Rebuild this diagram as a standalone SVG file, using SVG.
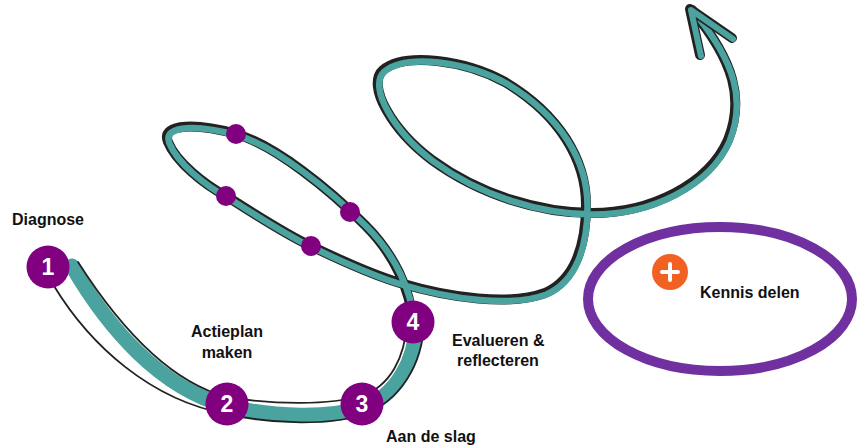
<svg xmlns="http://www.w3.org/2000/svg" width="866" height="447" viewBox="0 0 866 447">
<defs>
<style>
.lbl{font-family:"Liberation Sans",Arial,sans-serif;font-weight:bold;font-size:16px;fill:#111}
.num{font-family:"Liberation Sans",Arial,sans-serif;font-weight:bold;font-size:23px;fill:#fff;text-anchor:middle}
.step{fill:#800080}
.dot{fill:#800080}
.out{fill:none;stroke:#222;stroke-linecap:round;stroke-linejoin:round}
.teal{fill:none;stroke:#4AA39E;stroke-linecap:round;stroke-linejoin:round}
</style>
<path id="spiral" d="M413 322 C410 290 395 255 365 225 C330 190 275 145 236 134 C200 124 160 122 168 142 C176 162 205 185 226 196 C255 214 285 234 311 246 C340 260 370 274 400 283 C450 298 510 306 545 293 C575 280 586 245 586 205 C586 160 560 115 505 82 C465 60 405 52 383 70 C366 85 392 130 432 160 C480 195 540 213 592 213 C650 213 708 185 728 140 C744 100 735 62 692 10"/>
</defs>
<rect width="866" height="447" fill="#fff"/>
<g id="connectors">
<use href="#spiral" class="out" stroke-width="10"/>
<use href="#spiral" class="teal" stroke-width="6.5" transform="translate(1.5,1.5)"/>
<path d="M72 266 C108 328 160 388 227 406 C275 418 330 418 362 408 C396 396 415 362 417 322" class="teal" stroke-width="15"/>
<path d="M78 262 C115 320 166 381 227 397 C275 405 330 405 362 396 C390 386 405 358 407 322" class="out" stroke-width="1.8"/>
<path d="M54 286 C90 345 150 400 227 414 C275 425 330 425 362 415 C400 402 423 364 424 322" class="out" stroke-width="1.8"/>
<path d="M700 55 L690 9 L732 38" class="out" stroke-width="10"/>
<path d="M700 55 L690 9 L732 38" class="teal" stroke-width="6" transform="translate(1,1)"/>
</g>
<g id="dots">
<circle cx="236" cy="134" r="10" class="dot"/>
<circle cx="226" cy="196" r="10" class="dot"/>
<circle cx="350" cy="212" r="10" class="dot"/>
<circle cx="311" cy="246" r="10" class="dot"/>
</g>
<g id="step1"><circle cx="48" cy="267" r="21.5" class="step"/><text x="48" y="275" class="num">1</text></g>
<g id="step2"><circle cx="227" cy="404" r="21.5" class="step"/><text x="227" y="412" class="num">2</text></g>
<g id="step3"><circle cx="362" cy="404" r="21.5" class="step"/><text x="362" y="412" class="num">3</text></g>
<g id="step4"><circle cx="413" cy="322" r="21.5" class="step"/><text x="413" y="330" class="num">4</text></g>
<g id="labels">
<text x="12" y="225" class="lbl">Diagnose</text>
<text x="227" y="337" class="lbl" text-anchor="middle">Actieplan</text>
<text x="227" y="358" class="lbl" text-anchor="middle">maken</text>
<text x="452" y="346" class="lbl">Evalueren &amp;</text>
<text x="457" y="366" class="lbl">reflecteren</text>
<text x="386" y="442" class="lbl">Aan de slag</text>
</g>
<g id="kennis">
<ellipse cx="720" cy="299" rx="132" ry="72" fill="none" stroke="#7030A0" stroke-width="10"/>
<circle cx="670" cy="272" r="18" fill="#F26122"/>
<path d="M670 264 V280 M662 272 H678" stroke="#fff" stroke-width="4" stroke-linecap="round"/>
<text x="700" y="298" class="lbl">Kennis delen</text>
</g>
</svg>
